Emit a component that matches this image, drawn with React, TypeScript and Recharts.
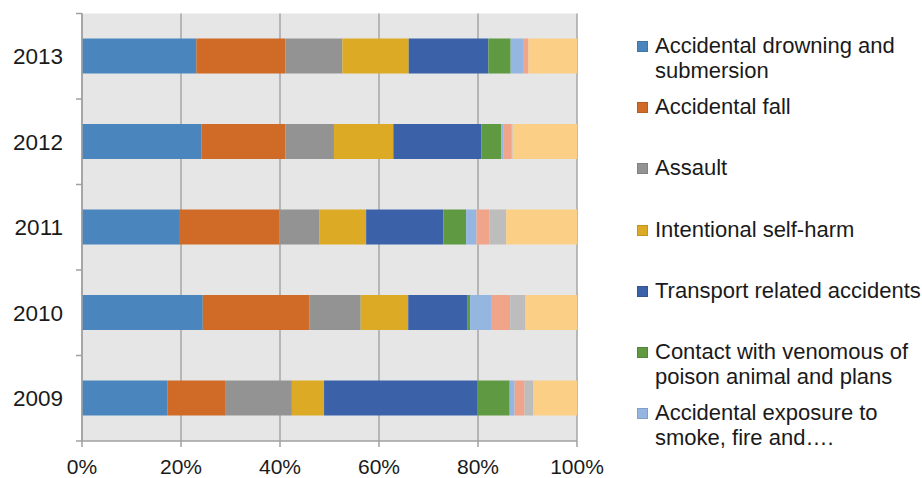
import React from 'react'
import { BarChart, Bar, XAxis, YAxis, CartesianGrid } from 'recharts'

const years = ['2013', '2012', '2011', '2010', '2009']

// share of deaths per cause (%), ordered like years
const drowning = [23.1, 24.1, 19.6, 24.4, 17.3]
const fall = [18.0, 17.0, 20.3, 21.5, 11.6]
const assault = [11.5, 9.8, 8.1, 10.4, 13.5]
const selfHarm = [13.4, 12.0, 9.4, 9.6, 6.5]
const transport = [16.1, 17.8, 15.6, 11.9, 30.9]
const venomous = [4.5, 4.0, 4.6, 0.6, 6.6]
const exposure = [2.5, 0.5, 2.1, 4.4, 1.0]
const poisoning = [1.1, 1.5, 2.6, 3.7, 2.0]
const medical = [0, 0.3, 3.4, 3.1, 1.8]
const other = [9.8, 13.0, 14.3, 10.4, 8.8]

const xTicks = [0, 0.2, 0.4, 0.6, 0.8, 1]

const series = [
  { key: 'drowning', name: 'Accidental drowning and submersion', values: drowning, color: '#4a86bd' },
  { key: 'fall', name: 'Accidental fall', values: fall, color: '#d06a27' },
  { key: 'assault', name: 'Assault', values: assault, color: '#939393' },
  { key: 'selfHarm', name: 'Intentional self-harm', values: selfHarm, color: '#dcaa24' },
  { key: 'transport', name: 'Transport related accidents', values: transport, color: '#3b62a8' },
  { key: 'venomous', name: 'Contact with venomous of poison animal and plans', values: venomous, color: '#5f9942' },
  { key: 'exposure', name: 'Accidental exposure to smoke, fire and….', values: exposure, color: '#94b6e0' },
  { key: 'poisoning', name: 'Accidental poisoning', values: poisoning, color: '#f0a58a' },
  { key: 'medical', name: 'Complications of medical care', values: medical, color: '#bdbdbd' },
  { key: 'other', name: 'Other external causes', values: other, color: '#fbcf85' },
]

const data = years.map((year, i) => {
  const row: any = { year }
  series.forEach(s => { row[s.key] = s.values[i] })
  return row
})

const W = 922
const H = 478
const TOP = 13.5
const BOTTOM_AXIS = 37
const FONT = '"Liberation Sans", Arial, sans-serif'
const halfBand = (H - TOP - BOTTOM_AXIS) / years.length / 2

const YearTick = ({ x, y, payload, index }: any) => {
  const axisX = x + 19
  return (
    <g>
      <line x1={axisX - 6} x2={axisX} y1={y - halfBand} y2={y - halfBand} stroke="#a0a0a0" strokeWidth={1.5} />
      {index === years.length - 1 && (
        <line x1={axisX - 6} x2={axisX} y1={y + halfBand} y2={y + halfBand} stroke="#a0a0a0" strokeWidth={1.5} />
      )}
      <text x={x} y={y} dy={8} textAnchor="end" fontSize={22.5} fill="#1a1a1a" fontFamily={FONT}>
        {payload.value}
      </text>
    </g>
  )
}

// the legend in the source only lists the first seven causes
const LegendBox = () => (
  <div style={{ position: 'absolute', left: 637, top: 33, width: 285, fontFamily: FONT, fontSize: 22, color: '#1a1a1a', lineHeight: '25px' }}>
    {series.slice(0, 7).map(s => (
      <div key={s.key} style={{ height: 61.2, display: 'flex', alignItems: 'flex-start' }}>
        <div style={{ width: 11, height: 11, background: s.color, marginTop: 8, marginRight: 7, flexShrink: 0, boxSizing: 'border-box', border: '1px solid rgba(0,0,0,0.12)' }} />
        <div style={{ width: 267 }}>{s.name}</div>
      </div>
    ))}
  </div>
)

export default function App() {
  return (
    <div style={{ position: 'absolute', left: 0, top: 0, width: W, height: H, background: '#fff' }}>
      <BarChart
        width={W}
        height={H}
        data={data}
        layout="vertical"
        stackOffset="expand"
        barSize={35}
        margin={{ top: TOP, right: W - 577, bottom: 0, left: 0 }}
      >
        <CartesianGrid horizontal={false} stroke="#a6a6a6" strokeWidth={1.5} fill="#e6e6e6" fillOpacity={1} />
        <XAxis
          type="number"
          domain={[0, 1]}
          ticks={xTicks}
          tickFormatter={v => `${Math.round(v * 100)}%`}
          height={BOTTOM_AXIS}
          tickMargin={12}
          axisLine={{ stroke: '#a0a0a0', strokeWidth: 1.5 }}
          tickLine={{ stroke: '#a0a0a0', strokeWidth: 1.5 }}
          tick={{ fontSize: 21, fill: '#1a1a1a', fontFamily: FONT }}
          interval={0}
        />
        <YAxis
          type="category"
          dataKey="year"
          width={82}
          tickLine={false}
          tickMargin={13}
          axisLine={{ stroke: '#a0a0a0', strokeWidth: 1.5 }}
          tick={<YearTick />}
          interval={0}
        />
        {series.map(s => (
          <Bar key={s.key} dataKey={s.key} name={s.name} stackId="a" fill={s.color} isAnimationActive={false} />
        ))}
      </BarChart>
      <LegendBox />
    </div>
  )
}
